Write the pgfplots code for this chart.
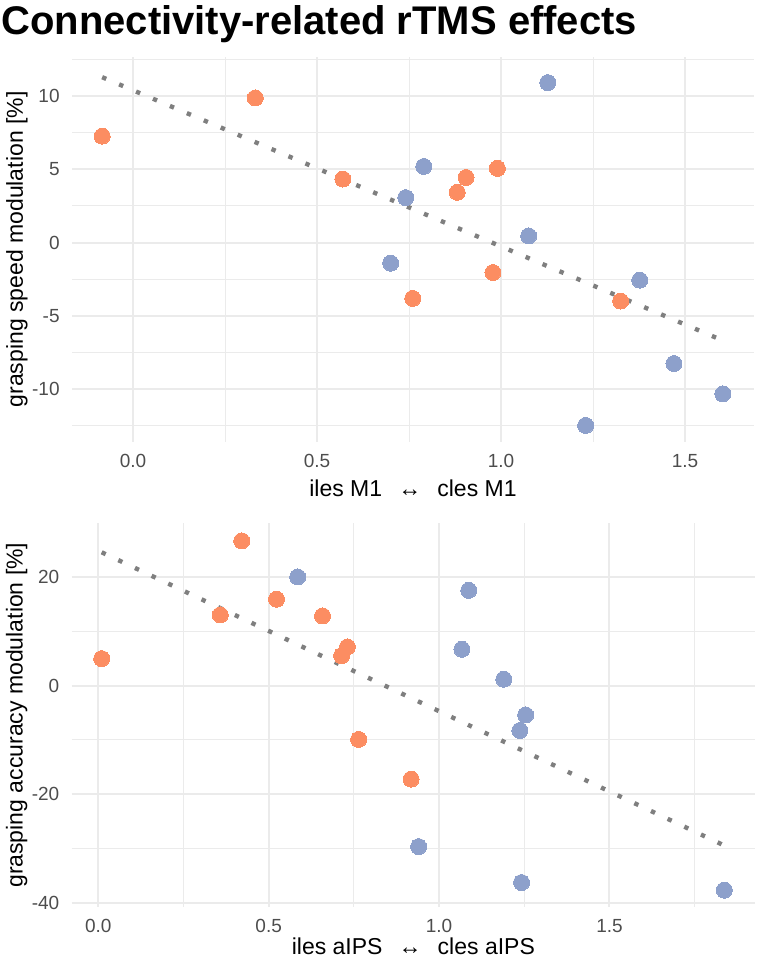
\documentclass[border=0pt]{standalone}
\usepackage{fontspec}
\setmainfont{Liberation Sans}
\usepackage{pgfplots}
\pgfplotsset{compat=1.18}
\definecolor{ptOrange}{HTML}{FC8D62}
\definecolor{ptBlue}{HTML}{8DA0CB}
\definecolor{gridGray}{HTML}{EBEBEB}
\definecolor{tickGray}{HTML}{4D4D4D}
\definecolor{trendGray}{HTML}{7F7F7F}

\pgfplotsset{
  minimal/.style={
    scale only axis,
    axis line style={draw=none},
    major tick length=0pt, minor tick length=0pt,
    grid=both,
    major grid style={draw=gridGray, line width=1pt},
    minor grid style={draw=gridGray, line width=0.5pt},
    tick label style={font=\fontsize{9.5}{11}\selectfont, text=tickGray, inner sep=0pt},
    xticklabel style={anchor=center, yshift=-9.5pt},
    yticklabel style={anchor=east, xshift=-6pt},
    label style={font=\fontsize{11.5}{13}\selectfont},
  },
  pts/.style={only marks, mark=*, mark size=4pt, color=#1, mark options={solid, draw=#1, fill=#1, line width=0pt}},
  trend/.style={no marks, draw=trendGray, line width=2.2pt, dash pattern=on 2.2pt off 7pt},
}

% top panel: M1
\pgfplotstableread{
x y
-0.084 7.27
0.332 9.88
0.570 4.34
0.881 3.43
0.905 4.45
0.990 5.07
0.978 -2.05
0.760 -3.82
1.325 -4.00
}\mOrange
\pgfplotstableread{
x y
1.127 10.93
0.790 5.20
0.741 3.07
1.075 0.45
0.700 -1.41
1.377 -2.57
1.470 -8.27
1.603 -10.34
1.230 -12.50
}\mBlue

% bottom panel: aIPS
\pgfplotstableread{
x y
0.010 4.96
0.421 26.6
0.358 12.98
0.523 15.87
0.658 12.8
0.731 7.1
0.714 5.5
0.764 -9.9
0.918 -17.2
}\aOrange
\pgfplotstableread{
x y
0.585 19.96
1.087 17.5
1.067 6.68
1.190 1.17
1.254 -5.4
1.237 -8.26
0.940 -29.6
1.242 -36.2
1.837 -37.6
}\aBlue

\begin{document}
\begin{tikzpicture}
\useasboundingbox (0,0) rectangle (380pt,482pt);

\node[anchor=base west, font=\bfseries\fontsize{20}{22}\selectfont, inner sep=0pt]
  at (0.5pt,464.5pt) {Connectivity-related rTMS effects};

\begin{axis}[
  minimal,
  at={(36pt,261.15pt)}, anchor=south west,
  width=341pt, height=192.35pt,
  xmin=-0.166, xmax=1.6875,
  ymin=-13.61, ymax=12.68,
  xtick={0,0.5,1,1.5}, xticklabels={0.0,0.5,1.0,1.5},
  minor xtick={0.25,0.75,1.25},
  ytick={-10,-5,0,5,10}, yticklabels={-10,-5,0,5,10},
  minor ytick={-12.5,-7.5,-2.5,2.5,7.5,12.5},
  xlabel={iles M1\hspace{0.7em}↔\hspace{0.7em}cles M1},
  ylabel={grasping speed modulation [\%]},
  xlabel style={at={(axis description cs:0.5,-0.142)}, anchor=base},
  ylabel style={at={(axis description cs:-0.0806,0.5)}, anchor=center},
]
\addplot[pts=ptOrange] table {\mOrange};
\addplot[pts=ptBlue] table {\mBlue};
\addplot[trend] coordinates {(-0.084,11.3) (1.603,-6.7)};
\end{axis}

\begin{axis}[
  minimal,
  at={(35.85pt,28.5pt)}, anchor=south west,
  width=341.65pt, height=191.85pt,
  xmin=-0.078, xmax=1.927,
  ymin=-40.7, ymax=29.83,
  xtick={0,0.5,1,1.5}, xticklabels={0.0,0.5,1.0,1.5},
  minor xtick={0.25,0.75,1.25,1.75},
  ytick={-40,-20,0,20}, yticklabels={-40,-20,0,20},
  minor ytick={-30,-10,10},
  xlabel={iles aIPS\hspace{0.7em}↔\hspace{0.7em}cles aIPS},
  ylabel={grasping accuracy modulation [\%]},
  xlabel style={at={(axis description cs:0.5,-0.125)}, anchor=base},
  ylabel style={at={(axis description cs:-0.0806,0.5)}, anchor=center},
]
\addplot[pts=ptOrange] table {\aOrange};
\addplot[pts=ptBlue] table {\aBlue};
\addplot[trend] coordinates {(0.010,24.5) (1.837,-29.4)};
\end{axis}
\end{tikzpicture}
\end{document}
